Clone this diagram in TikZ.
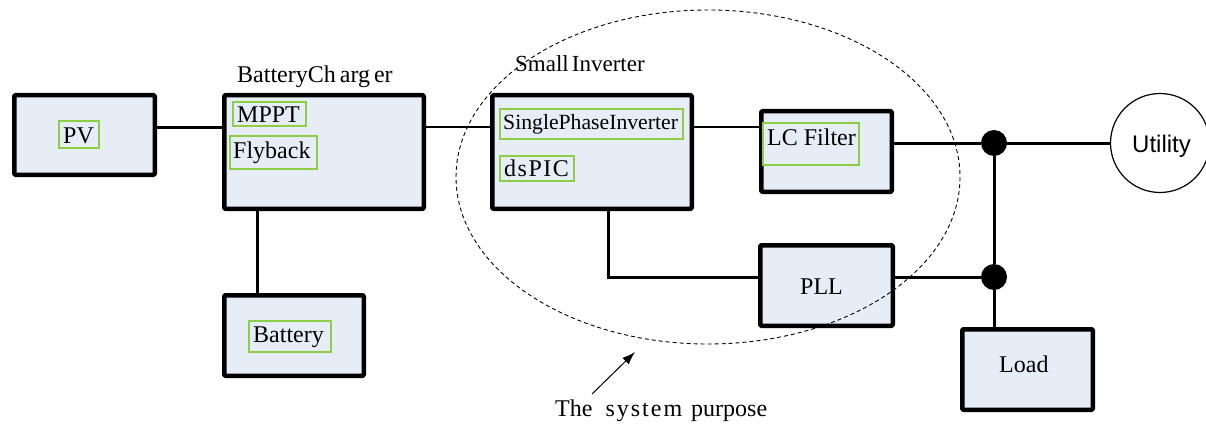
\documentclass[tikz,border=0pt]{standalone}
\usepackage{fontspec}
\setmainfont{Liberation Serif}
\newfontfamily\arialfont{Liberation Sans}
\usetikzlibrary{arrows.meta}
\definecolor{boxfill}{RGB}{230,237,247}
\definecolor{lgreen}{RGB}{140,206,70}
\begin{document}
\begin{tikzpicture}[x=1pt,y=-1pt,
  blk/.style={draw, line width=4.5pt, fill=boxfill, rounded corners=1pt, inner sep=0pt, line join=round},
  gbox/.style={draw=lgreen, line width=1.8pt, inner sep=0pt},
  lbl/.style={inner sep=0pt, anchor=base west, font=\fontsize{24}{28}\selectfont},
  wire/.style={line width=3pt},
  jdot/.style={circle, fill=black, inner sep=0pt, minimum size=26pt}]

\useasboundingbox (0,0) rectangle (1206,425);

% blocks
\node[blk, minimum width=140.5pt, minimum height=79.5pt] (pv)  at (84.5,135) {};
\node[blk, minimum width=199.5pt, minimum height=113.5pt] (chg) at (324,152) {};
\node[blk, minimum width=139.5pt, minimum height=80.5pt] (bat) at (294,335.5) {};
\node[blk, minimum width=199.5pt, minimum height=113.5pt] (inv) at (592,152) {};
\node[blk, minimum width=130.5pt, minimum height=80.5pt] (lc)  at (826.5,151.5) {};
\node[blk, minimum width=132.5pt, minimum height=80.5pt] (pll) at (826.5,285.5) {};
\node[blk, minimum width=130.5pt, minimum height=80.5pt] (load) at (1027.5,369.5) {};
\node[draw, circle, line width=1.2pt, minimum size=99pt, inner sep=0pt] (util) at (1160,143) {};

% green label frames
\node[gbox, minimum width=40.2pt, minimum height=27.2pt] (gpv) at (79,134.5) {};
\node[gbox, minimum width=73.2pt, minimum height=24.2pt] (gmppt) at (269.5,114) {};
\node[gbox, minimum width=87.2pt, minimum height=33.2pt] (gfly) at (273.5,152.5) {};
\node[gbox, minimum width=82.2pt, minimum height=31.2pt] (gbat) at (290,336.5) {};
\node[gbox, minimum width=183.2pt, minimum height=30.2pt] (gspi) at (591.5,124) {};
\node[gbox, minimum width=74.2pt, minimum height=25.2pt] (gdsp) at (537,168.5) {};
\node[gbox, minimum width=96.2pt, minimum height=42.2pt] (glc) at (811,144) {};

% texts
\node[lbl] (tpv) at (63,143) {PV};
\node[lbl] (tmppt) at (237,122) {MPPT};
\node[lbl] (tfly) at (233,158) {Flyback};
\node[lbl] (tchg) at (237,83) {BatteryCh\,arg\,er};
\node[lbl] (tbat) at (253,342) {Battery};
\node[lbl, font=\fontsize{23}{27}\selectfont] (tsi) at (515,72) {Small\hspace{3pt}Inverter};
\node[lbl, font=\fontsize{21.7}{26}\selectfont] (tspi) at (503,129) {SinglePhaseInverter};
\node[lbl] (tdsp) at (504,176) {d\kern1.5pt s\kern1.5pt P\kern1.5pt I\kern1.5pt C};
\node[lbl] (tlc) at (767,145) {LC Filter};
\node[lbl] (tpll) at (800,294) {PLL};
\node[lbl] (tload) at (999,372) {Load};
\node[lbl, font=\arialfont\fontsize{24}{28}\selectfont] (tutil) at (1132,152) {Utility};
\node[lbl] (tsys) at (555,416) {The\hspace{13pt}s\kern2pt y\kern2pt s\kern2pt t\kern2pt e\kern2pt m\hspace{9pt}purpose};

% junctions
\node[jdot] (d1) at (994,143) {};
\node[jdot] (d2) at (994,277) {};

% helper coordinates
\coordinate (bus) at (0,127);
\coordinate (bc) at (257,250);
\coordinate (k) at (608,277);

% wires
\draw[wire] (pv.east |- bus) -- (chg.west |- bus);
\draw[wire, line width=2.6pt] (chg.east |- bus) -- (inv.west |- bus);
\draw[wire, line width=2.6pt] (inv.east |- bus) -- (lc.west |- bus);
\draw[wire] (lc.east |- d1) -- (d1) -- (util.west);
\draw[wire] (d1) -- (d2) -- (d2 |- load.north);
\draw[wire] (chg.south -| bc) -- (bat.north -| bc);
\draw[wire] (inv.south -| k) -- (k) -- (pll.west |- k);
\draw[wire] (pll.east |- d2) -- (d2);

% system boundary
\draw[dash pattern=on 4pt off 3pt, line width=0.9pt] (708,177) ellipse (252 and 167);

% pointer
\coordinate (ar1) at (592,394);
\coordinate (ar2) at (635,352);
\draw[line width=1pt, -{Latex[length=13pt,width=9pt]}] (ar1) -- (ar2);
\end{tikzpicture}
\end{document}
